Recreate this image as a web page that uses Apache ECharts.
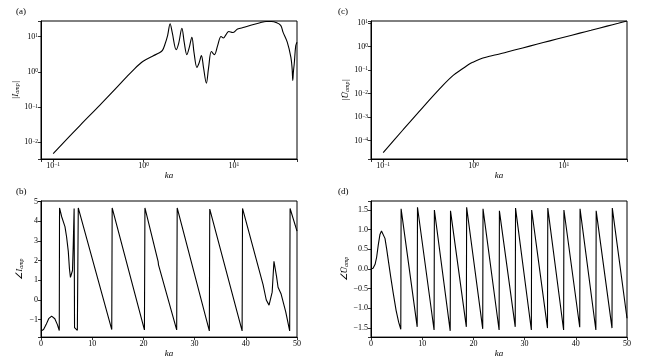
<!DOCTYPE html>
<html><head><meta charset="utf-8">
<script src="https://cdn.jsdelivr.net/npm/echarts@6/dist/echarts.min.js"></script>
<style>html,body{margin:0;padding:0;background:#fff}#c{width:660px;height:359px}</style>
</head><body><div id="c"></div>
<script>
// (a) |I_amp| vs ka (log-log)
const kaA  = [0.1, 0.2, 0.327, 0.5, 0.65, 0.8, 0.9, 1.0, 1.27, 1.5, 1.62, 1.72, 1.85, 1.97, 2.08, 2.3, 2.45, 2.66, 2.82, 3.02, 3.2, 3.43, 3.62, 3.9, 4.12, 4.37, 4.62, 4.96, 5.25, 5.64, 6.09, 6.6, 7.22, 7.66, 8.2, 8.77, 9.71, 11.0, 13.0, 16.1, 19.5, 22.7, 26.0, 29.2, 33.0, 35.0, 39.0, 42.8, 44.2, 44.9, 45.6, 46.6, 48.4, 50];
const ampA = [0.0048, 0.031, 0.112, 0.35, 0.72, 1.25, 1.65, 2.05, 2.85, 3.5, 4.1, 5.9, 11, 23.5, 13, 4.3, 6.5, 17.5, 7, 3.1, 4.8, 9.7, 3.6, 1.35, 1.8, 2.9, 1.3, 0.48, 1.3, 3.8, 3.1, 5.5, 10.2, 9.2, 11.5, 14.1, 13.2, 16.5, 18.5, 21.9, 25, 27.2, 27, 25.5, 21, 13.5, 7, 2.6, 1.2, 0.57, 1.0, 1.7, 5.5, 7];
// (c) |U_amp| vs ka (log-log)
const kaC  = [0.1, 0.166, 0.275, 0.458, 0.6, 0.762, 0.9, 1.0, 1.15, 1.27, 1.5, 1.78, 2.3, 3.5, 5, 7, 10, 15, 20, 30, 40, 50];
const ampC = [3.1e-5, 2.9e-4, 2.6e-3, 0.022, 0.06, 0.115, 0.18, 0.22, 0.28, 0.32, 0.38, 0.44, 0.57, 0.86, 1.23, 1.72, 2.45, 3.66, 4.85, 7.25, 9.6, 12];
// (b) angle I_amp vs ka
const kaB  = [0, 0.5, 1.0, 1.5, 2.08, 2.7, 3.2, 3.57, 3.62, 4.04, 4.68, 5.0, 5.33, 5.55, 5.75, 5.95, 6.15, 6.3, 6.47, 6.55, 6.62, 6.8, 7.1, 7.22, 7.28, 13.82, 13.9, 20.2, 20.3, 22.88, 22.95, 26.5, 26.6, 32.88, 32.96, 39.28, 39.36, 43.37, 44.0, 44.54, 44.9, 45.15, 45.35, 45.5, 45.75, 46.0, 46.3, 46.9, 47.8, 48.57, 48.65, 50];
const angB = [-1.57, -1.5, -1.25, -0.95, -0.82, -0.95, -1.25, -1.55, 4.68, 4.23, 3.73, 3.2, 2.47, 1.6, 1.15, 1.08, 1.5, 2.81, 4.65, -1.4, -1.45, -1.42, -1.54, -1.55, 4.68, -1.5, 4.68, -1.52, 4.68, 1.95, 1.78, -1.52, 4.68, -1.57, 4.62, -1.57, 4.65, 0.78, 0.0, -0.26, -0.2, 0.4, 1.3, 1.97, 1.9, 1.2, 0.65, 0.3, -0.6, -1.57, 4.65, 3.5];
// (d) angle U_amp vs ka
const kaD  = [0, 0.4, 0.8, 1.1, 1.43, 1.75, 2.05, 2.4, 2.73, 3.05, 3.38, 3.85, 4.35, 4.9, 5.4, 5.82, 5.88, 9.02, 9.08, 12.32, 12.38, 15.47, 15.53, 18.62, 18.68, 21.82, 21.88, 25.02, 25.08, 28.17, 28.23, 31.32, 31.38, 34.47, 34.53, 37.62, 37.68, 40.77, 40.83, 43.92, 43.98, 47.07, 47.13, 50];
const angD = [0.0, 0.02, 0.12, 0.3, 0.62, 0.88, 0.97, 0.92, 0.78, 0.52, 0.22, -0.2, -0.62, -1.05, -1.35, -1.53, 1.53, -1.47, 1.57, -1.55, 1.5, -1.57, 1.48, -1.47, 1.57, -1.52, 1.53, -1.55, 1.48, -1.47, 1.55, -1.55, 1.5, -1.5, 1.55, -1.55, 1.5, -1.48, 1.53, -1.55, 1.48, -1.5, 1.55, -1.25];

const FONT = 'Liberation Serif';
const pairs = (xs, ys) => xs.map((x, i) => [x, ys[i]]);
const minus = s => String(s).replace('-', '\u2212');
function logLabel(v) {
  const e = Math.log10(v), r = Math.round(e);
  if (Math.abs(e - r) > 1e-6) return '';
  return '10{s|' + minus(r) + '}';
}
const labelBase = { fontFamily: FONT, fontSize: 8, color: '#000', margin: 3,
  rich: { s: { fontFamily: FONT, fontSize: 5.5, verticalAlign: 'top', color: '#000' } } };
const lineC = { onZero: false, lineStyle: { color: '#000', width: 1 } };
const tickC = { show: true, length: 3, lineStyle: { color: '#000', width: 0.8 } };
const nameStyle = { fontFamily: FONT, fontSize: 9, color: '#000', fontStyle: 'italic',
  rich: { sub: { fontFamily: FONT, fontSize: 6, fontStyle: 'italic', verticalAlign: 'bottom', color: '#000' } } };

const grids = [
  { left: 41, top: 21, width: 256, height: 138 },
  { left: 371, top: 21, width: 256, height: 138 },
  { left: 41, top: 201, width: 256, height: 138 },
  { left: 371, top: 201, width: 256, height: 138 }
].map(g => Object.assign({ show: true, borderColor: '#000', borderWidth: 1, backgroundColor: 'transparent' }, g));

function xAx(i, type, extra) {
  return Object.assign({ gridIndex: i, type: type, name: 'ka', nameLocation: 'middle', nameGap: 10,
    nameTextStyle: { fontFamily: FONT, fontSize: 9, fontStyle: 'italic', color: '#000' },
    axisLine: Object.assign({ show: true }, lineC), axisTick: tickC, splitLine: { show: false },
    axisLabel: Object.assign({}, labelBase) }, extra);
}
function yAx(i, type, name, extra) {
  return Object.assign({ gridIndex: i, type: type, name: name, nameLocation: 'middle', nameGap: 17, nameRotate: 90,
    nameTextStyle: nameStyle,
    axisLine: Object.assign({ show: true }, lineC), axisTick: tickC, splitLine: { show: false },
    axisLabel: Object.assign({}, labelBase) }, extra);
}

const option = {
  animation: false,
  backgroundColor: '#fff',
  grid: grids,
  xAxis: [
    xAx(0, 'log', { logBase: 10, min: 0.0733, max: 50, axisLabel: Object.assign({}, labelBase, { formatter: logLabel }) }),
    xAx(1, 'log', { logBase: 10, min: 0.0733, max: 50, axisLabel: Object.assign({}, labelBase, { formatter: logLabel }) }),
    xAx(2, 'value', { min: 0, max: 50, interval: 10 }),
    xAx(3, 'value', { min: 0, max: 50, interval: 10 })
  ],
  yAxis: [
    yAx(0, 'log', '|I{sub|amp}|', { logBase: 10, min: 0.00336, max: 28, axisLabel: Object.assign({}, labelBase, { formatter: logLabel }) }),
    yAx(1, 'log', '|\u016A{sub|amp}|', { logBase: 10, min: 1.66e-5, max: 12, axisLabel: Object.assign({}, labelBase, { formatter: logLabel }) }),
    yAx(2, 'value', '\u2220I{sub|amp}', { min: -1.885, max: 5.03,
      axisLabel: Object.assign({}, labelBase, { formatter: v => Math.abs(v - Math.round(v)) < 1e-6 ? minus(Math.round(v)) : '' }) }),
    yAx(3, 'value', '\u2220\u016A{sub|amp}', { min: -1.73, max: 1.73,
      axisLabel: Object.assign({}, labelBase, { formatter: v => Math.abs(v * 2 - Math.round(v * 2)) < 1e-6 ? minus(v.toFixed(1)) : '' }) })
  ],
  graphic: [
    { type: 'text', left: 16, top: 7, style: { text: '(a)', font: '9px "Liberation Serif"', fill: '#000' } },
    { type: 'text', left: 338, top: 7, style: { text: '(c)', font: '9px "Liberation Serif"', fill: '#000' } },
    { type: 'text', left: 16, top: 187, style: { text: '(b)', font: '9px "Liberation Serif"', fill: '#000' } },
    { type: 'text', left: 338, top: 187, style: { text: '(d)', font: '9px "Liberation Serif"', fill: '#000' } }
  ],
  series: [
    { type: 'line', xAxisIndex: 0, yAxisIndex: 0, data: pairs(kaA, ampA), smooth: 0.35 },
    { type: 'line', xAxisIndex: 1, yAxisIndex: 1, data: pairs(kaC, ampC), smooth: 0.3 },
    { type: 'line', xAxisIndex: 2, yAxisIndex: 2, data: pairs(kaB, angB) },
    { type: 'line', xAxisIndex: 3, yAxisIndex: 3, data: pairs(kaD, angD) }
  ].map(s => Object.assign({ showSymbol: false, symbol: 'none', lineStyle: { color: '#000', width: 1.1 }, silent: true, clip: true }, s))
};
const chart = echarts.init(document.getElementById('c'), null, { renderer: 'canvas' });
chart.setOption(option);
</script></body></html>
